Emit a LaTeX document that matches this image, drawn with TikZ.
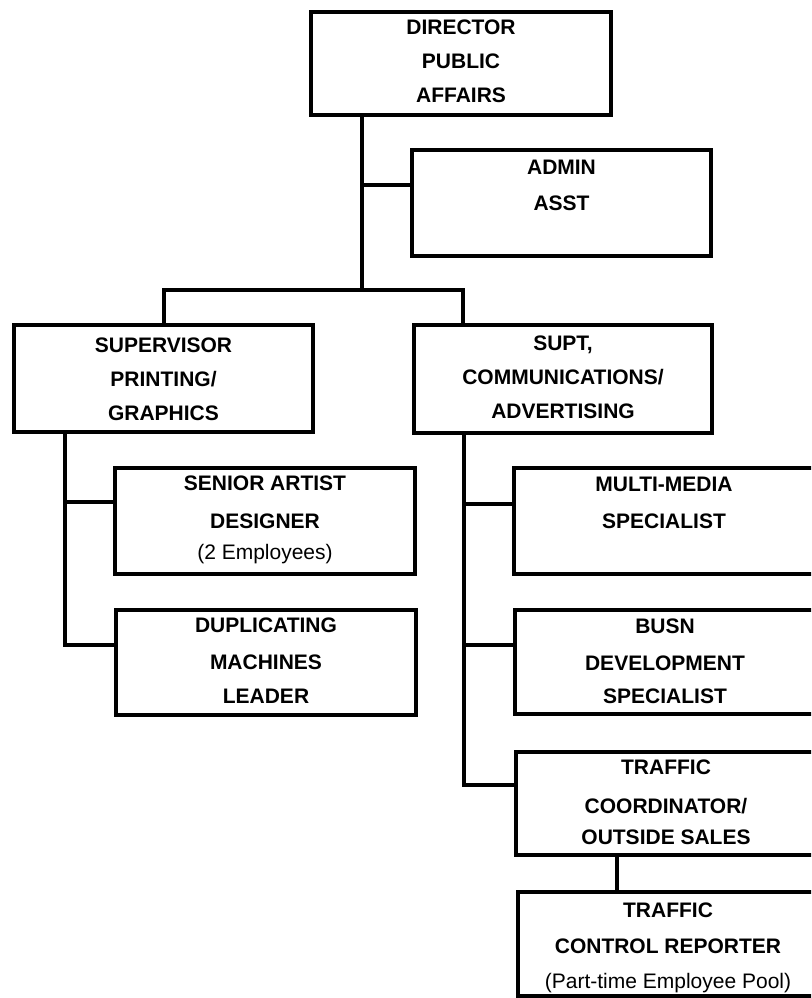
\documentclass[tikz,border=0pt]{standalone}
\usepackage{fontspec}
\setmainfont{Liberation Sans}
\begin{document}
\begin{tikzpicture}[x=1pt,y=-1pt,
  box/.style={draw, line width=4pt, inner sep=0pt, outer sep=0pt, minimum width=300pt},
  title/.style={anchor=base, inner sep=0pt, font=\fontsize{21}{25}\selectfont\bfseries},
  note/.style={anchor=base, inner sep=0pt, font=\fontsize{21}{25}\selectfont},
  wire/.style={line width=4pt, line join=miter}]
\clip (0,0) rectangle (811,998);
\fill[white] (0,0) rectangle (811,998);

% ---- boxes ----
\node[box, minimum height=103pt] (dir)  at (461,63.5) {};
\node[box, minimum width=299pt, minimum height=106pt] (adm)  at (561.5,203) {};
\node[box, minimum width=299pt, minimum height=107pt] (sup)  at (163.5,378.5) {};
\node[box, minimum width=298pt, minimum height=108pt] (supt) at (563,379) {};
\node[box, minimum height=106pt] (sen)  at (265,521) {};
\node[box, minimum height=105pt] (dup)  at (266,662.5) {};
\node[box, minimum height=106pt] (mm)   at (664,521) {};
\node[box, minimum height=104pt] (busn) at (665,662) {};
\node[box, minimum height=103pt] (tc)   at (666,803.5) {};
\node[box, minimum height=104pt] (rep)  at (668,944) {};

% ---- box texts ----
\node[title] (dirA) at (461,35)  {DIRECTOR};
\node[title] (dirB) at (461,69)  {PUBLIC};
\node[title] (dirC) at (461,102) {AFFAIRS};

\node[title] (admA) at (561.5,174) {ADMIN};
\node[title] (admB) at (561.5,210) {ASST};

\node[title] (supA) at (163.5,352) {SUPERVISOR};
\node[title] (supB) at (163.5,386) {PRINTING/};
\node[title] (supC) at (163.5,420) {GRAPHICS};

\node[title] (suptA) at (563,350) {SUPT,};
\node[title] (suptB) at (563,384) {COMMUNICATIONS/};
\node[title] (suptC) at (563,418) {ADVERTISING};

\node[title] (senA) at (265,490) {SENIOR ARTIST};
\node[title] (senB) at (265,528) {DESIGNER};
\node[note]  (senC) at (265,559) {(2 Employees)};

\node[title] (dupA) at (266,632) {DUPLICATING};
\node[title] (dupB) at (266,669) {MACHINES};
\node[title] (dupC) at (266,703) {LEADER};

\node[title] (mmA) at (664,491) {MULTI-MEDIA};
\node[title] (mmB) at (664,528) {SPECIALIST};

\node[title] (busnA) at (665,633) {BUSN};
\node[title] (busnB) at (665,670) {DEVELOPMENT};
\node[title] (busnC) at (665,703) {SPECIALIST};

\node[title] (tcA) at (666,774) {TRAFFIC};
\node[title] (tcB) at (666,813) {COORDINATOR/};
\node[title] (tcC) at (666,844) {OUTSIDE SALES};

\node[title] (repA) at (668,917) {TRAFFIC};
\node[title] (repB) at (668,953) {CONTROL REPORTER};
\node[note]  (repC) at (668,988) {(Part-time Employee Pool)};

% ---- junction points ----
\coordinate (t0) at (362,290);
\coordinate (a0) at (362,185);
\coordinate (bl) at (164,290);
\coordinate (br) at (463,290);
\coordinate (l1) at (65,502);
\coordinate (l2) at (65,645);
\coordinate (r1) at (464,504);
\coordinate (r2) at (464,645);
\coordinate (r3) at (464,785);
\coordinate (v0) at (617,870);

% ---- connectors ----
\draw[wire] (t0 |- dir.south) -- (t0);
\draw[wire] (a0) -- (a0 -| adm.west);
\draw[wire] (bl |- sup.north) -- (bl) -- (br) -- (br |- supt.north);

\draw[wire] (l1 |- sup.south) -- (l2) -- (l2 -| dup.west);
\draw[wire] (l1) -- (l1 -| sen.west);

\draw[wire] (r1 |- supt.south) -- (r3) -- (r3 -| tc.west);
\draw[wire] (r1) -- (r1 -| mm.west);
\draw[wire] (r2) -- (r2 -| busn.west);

\draw[wire] (v0 |- tc.south) -- (v0 |- rep.north);
\end{tikzpicture}
\end{document}
